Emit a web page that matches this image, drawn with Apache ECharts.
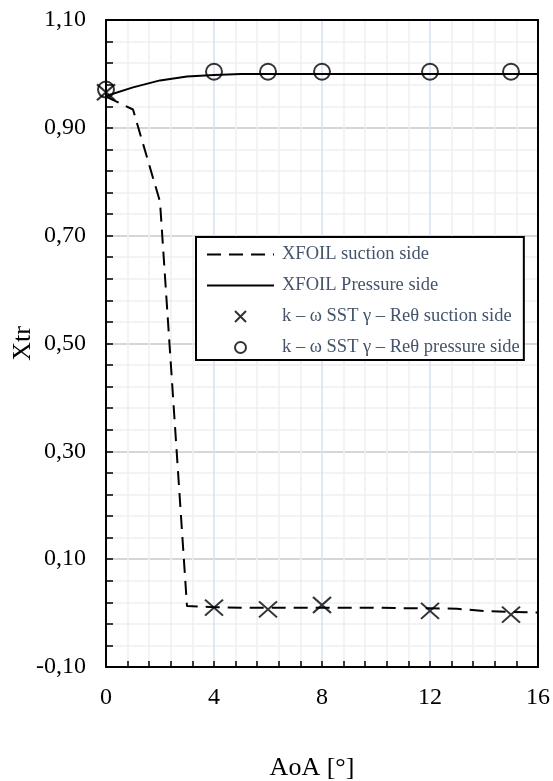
<!DOCTYPE html>
<html>
<head>
<meta charset="utf-8">
<script src="https://cdn.jsdelivr.net/npm/echarts@6/dist/echarts.min.js"></script>
<style>
  html, body { margin: 0; padding: 0; background: #fff; }
  #chart { width: 553px; height: 781px; }
</style>
</head>
<body>
<div id="chart"></div>
<script>
// Angle of attack for the XFOIL polars
const aoaXfoil = [0, 1, 2, 3, 4, 5, 6, 7, 8, 9, 10, 11, 12, 13, 14, 15, 16];
// XFOIL transition location, suction side
const xfoilSuction = [0.958, 0.934, 0.763, 0.013, 0.011, 0.010, 0.010, 0.010, 0.010, 0.010, 0.010, 0.009, 0.009, 0.008, 0.004, 0.002, 0.001];
// XFOIL transition location, pressure side
const xfoilPressure = [0.959, 0.975, 0.988, 0.995, 0.998, 1.000, 1.000, 1.000, 1.000, 1.000, 1.000, 1.000, 1.000, 1.000, 1.000, 1.000, 1.000];
// Angle of attack for the k-omega SST gamma-Re_theta runs
const aoaSst = [0, 4, 6, 8, 12, 15];
const sstSuction = [0.966, 0.010, 0.007, 0.015, 0.004, -0.003];
const sstPressure = [0.971, 1.004, 1.004, 1.004, 1.004, 1.004];

const seriesNames = [
  'XFOIL suction side',
  'XFOIL Pressure side',
  'k \u2013 \u03c9 SST \u03b3 \u2013 Re\u03b8 suction side',
  'k \u2013 \u03c9 SST \u03b3 \u2013 Re\u03b8 pressure side'
];

const pair = (xs, ys) => xs.map((x, i) => [x, ys[i]]);
const FONT = 'Liberation Serif';
const crossPath = 'path://M0,0L10,10M10,0L0,10';

const chart = echarts.init(document.getElementById('chart'), null, { renderer: 'canvas' });

// Axes used only to close the frame on the top and right
const frameAxis = {
  axisLabel: { show: false },
  axisTick: { show: false },
  splitLine: { show: false },
  axisLine: { show: true, onZero: false, lineStyle: { color: '#000', width: 2 } }
};

chart.setOption({
  animation: false,
  backgroundColor: '#fff',
  grid: { left: 106, right: 15, top: 20, bottom: 114, containLabel: false, outerBoundsMode: 'none' },
  xAxis: [{
    type: 'value', min: 0, max: 16, interval: 4,
    name: 'AoA [\u00b0]', nameLocation: 'middle', nameGap: 88, nameMoveOverlap: false,
    nameTextStyle: { fontFamily: FONT, fontSize: 26, color: '#000', padding: [0, 20, 0, 0] },
    axisLine: { onZero: false, lineStyle: { color: '#000', width: 2 } },
    axisTick: { inside: true, length: 6, lineStyle: { color: '#000', width: 1.5 } },
    minorTick: { show: true, splitNumber: 5, length: 6, lineStyle: { color: '#000', width: 1.5 } },
    axisLabel: { fontFamily: FONT, fontSize: 24, color: '#000', margin: 19 },
    splitLine: { show: true, lineStyle: { color: '#d6e0f2', width: 1.5 } },
    minorSplitLine: { show: true, lineStyle: { color: '#eef0f5', width: 1.5 } }
  }, Object.assign({ type: 'value', min: 0, max: 16, position: 'top' }, frameAxis)],
  yAxis: [{
    type: 'value', min: -0.1, max: 1.1, interval: 0.2,
    name: 'Xtr', nameLocation: 'middle', nameGap: 70, nameRotate: 90, nameMoveOverlap: false,
    nameTextStyle: { fontFamily: FONT, fontSize: 26, color: '#000' },
    axisLine: { onZero: false, lineStyle: { color: '#000', width: 2 } },
    axisTick: { inside: true, length: 7, lineStyle: { color: '#000', width: 1.5 } },
    minorTick: { show: true, splitNumber: 5, length: 7, lineStyle: { color: '#000', width: 1.5 } },
    axisLabel: {
      fontFamily: FONT, fontSize: 24, color: '#000', margin: 20,
      formatter: v => v.toFixed(2).replace('.', ',')
    },
    splitLine: { show: true, lineStyle: { color: '#c8c8c8', width: 1.5 } },
    minorSplitLine: { show: true, lineStyle: { color: '#eef0f5', width: 1.5 } }
  }, Object.assign({ type: 'value', min: -0.1, max: 1.1, position: 'right' }, frameAxis)],
  legend: {
    orient: 'vertical', left: 196, top: 237,
    padding: [8, 4, 3, 10], itemGap: 12,
    itemWidth: 67, itemHeight: 11,
    backgroundColor: '#fff', borderColor: '#000', borderWidth: 2,
    textStyle: { fontFamily: FONT, fontSize: 18.5, color: '#44546a', padding: [0, 0, 0, 3] },
    data: [
      { name: seriesNames[0], itemStyle: { opacity: 0 } },
      { name: seriesNames[1], itemStyle: { opacity: 0 } },
      { name: seriesNames[2] },
      { name: seriesNames[3] }
    ]
  },
  series: [
    {
      name: seriesNames[0], type: 'line', showSymbol: false, symbol: 'none',
      data: pair(aoaXfoil, xfoilSuction),
      lineStyle: { color: '#000', width: 2, type: [14, 8] },
      itemStyle: { color: '#000' }, z: 3
    },
    {
      name: seriesNames[1], type: 'line', showSymbol: false, symbol: 'none',
      data: pair(aoaXfoil, xfoilPressure),
      lineStyle: { color: '#000', width: 2 },
      itemStyle: { color: '#000' }, z: 3
    },
    {
      name: seriesNames[2], type: 'scatter', clip: false,
      symbol: crossPath, symbolSize: [18, 16],
      data: pair(aoaSst, sstSuction),
      itemStyle: { color: 'transparent', borderColor: '#000', borderWidth: 2 }, z: 4
    },
    {
      name: seriesNames[3], type: 'scatter', clip: false,
      symbol: 'circle', symbolSize: 16,
      data: pair(aoaSst, sstPressure),
      itemStyle: { color: 'transparent', borderColor: '#000', borderWidth: 2 }, z: 4
    }
  ]
});
</script>
</body>
</html>
